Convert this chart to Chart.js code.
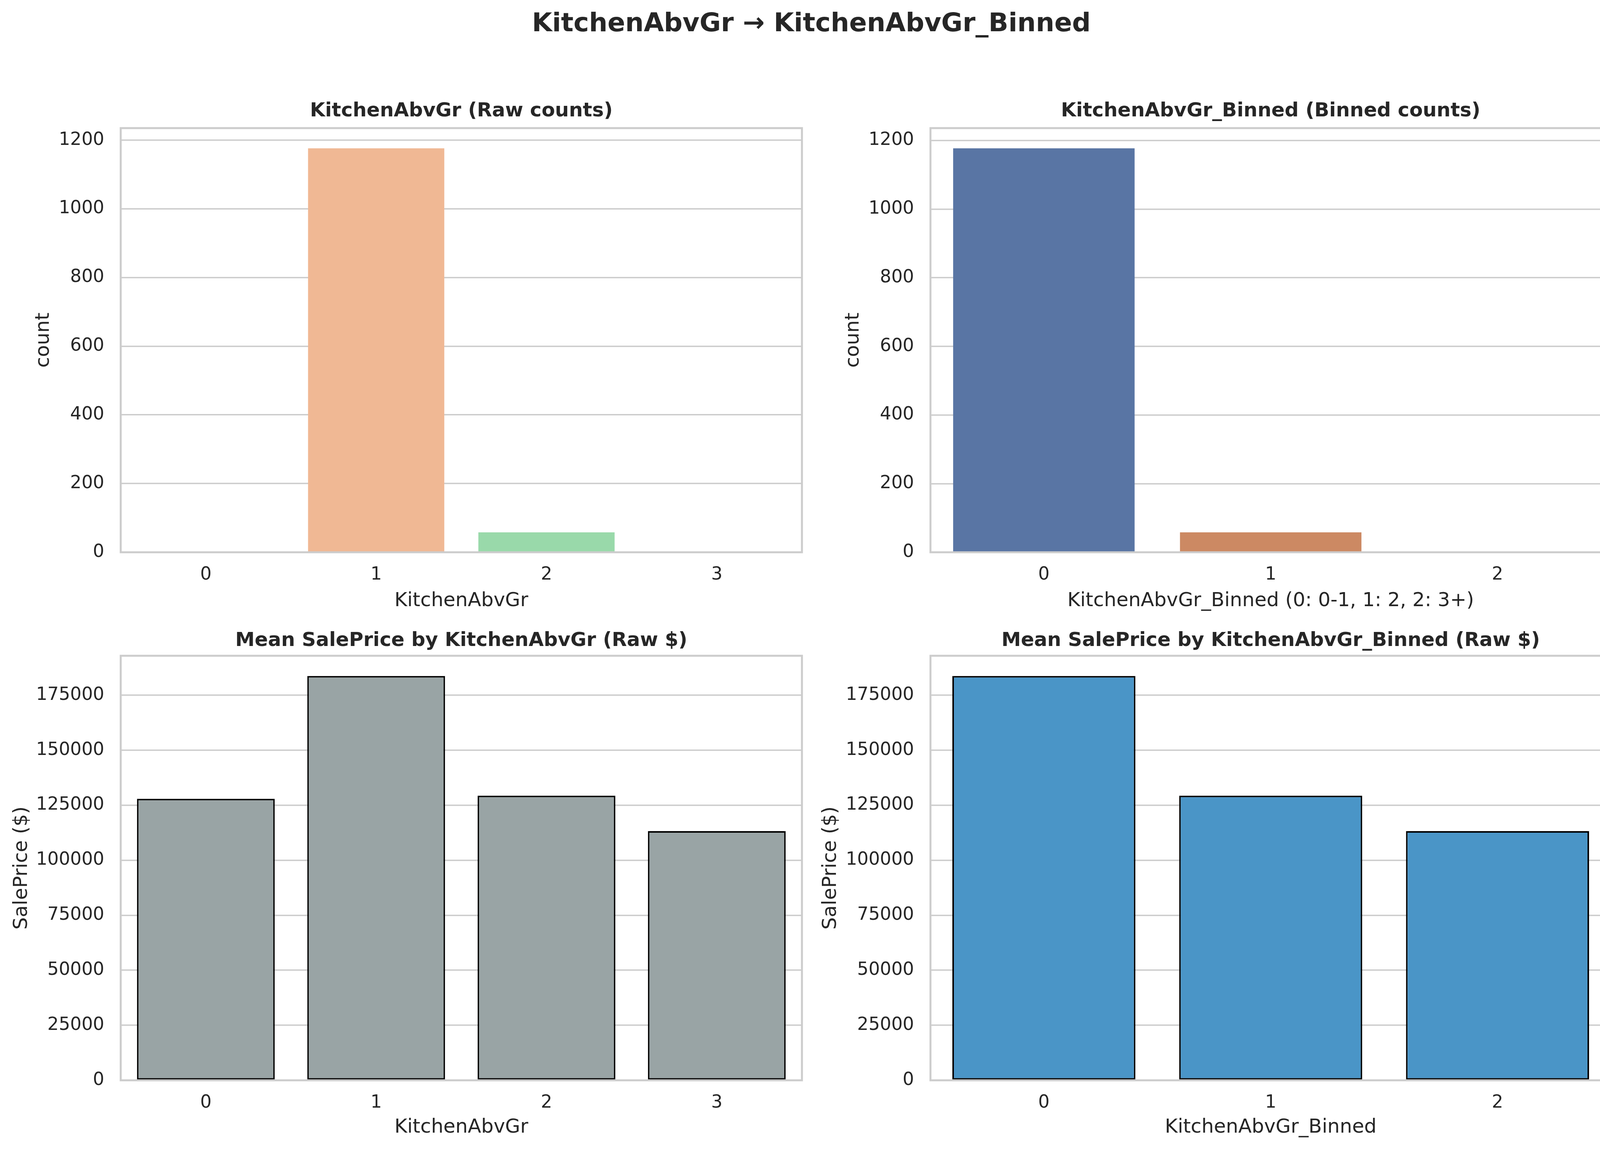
<!DOCTYPE html>
<html>
<head>
<meta charset="utf-8">
<script src="https://cdn.jsdelivr.net/npm/chart.js@4.4.1/dist/chart.umd.min.js"></script>
<style>
  html, body { margin: 0; padding: 0; background: #fff; }
  body { width: 4154px; height: 2947px; position: relative; overflow: hidden; }
  canvas { position: absolute; }
  .suptitle {
    position: absolute; left: 0; top: 17px; width: 4154px; text-align: center;
    font-family: 'DejaVu Sans'; font-weight: bold; font-size: 66.7px; line-height: 80px; color: #262626;
  }
</style>
</head>
<body>
<div class="suptitle">KitchenAbvGr → KitchenAbvGr_Binned</div>
<canvas id="c1" width="2077" height="1370" style="left:0px;top:230px"></canvas>
<canvas id="c2" width="2077" height="1370" style="left:2077px;top:230px"></canvas>
<canvas id="c3" width="2077" height="1367" style="left:0px;top:1580px"></canvas>
<canvas id="c4" width="2077" height="1367" style="left:2077px;top:1580px"></canvas>
<script>
const rawCats = ['0', '1', '2', '3'];
const rawCounts = [1, 1176, 58, 2];
const binCats = ['0', '1', '2'];
const binCounts = [1177, 58, 2];
const rawPrice = [127900, 183700, 129300, 113200];
const binPrice = [183700, 129300, 113200];
const countTicks = [0, 200, 400, 600, 800, 1000, 1200];
const priceTicks = [0, 25000, 50000, 75000, 100000, 125000, 150000, 175000];

const rawColors = ['#a3c4e6', '#f0b894', '#99d9aa', '#eda4a1'];
const binColors = ['#5975a4', '#cc8963', '#5f9e6e'];

Chart.defaults.font.family = 'DejaVu Sans';
Chart.defaults.color = '#262626';

// matplotlib style frame: all four spines, drawn over the bars
const frame = {
  id: 'frame',
  afterDatasetsDraw(chart) {
    const a = chart.chartArea;
    const ctx = chart.ctx;
    ctx.save();
    ctx.strokeStyle = '#cccccc';
    ctx.lineWidth = 5;
    ctx.strokeRect(a.left, a.top, a.right - a.left, a.bottom - a.top);
    ctx.restore();
  }
};

function makePanel(id, p) {
  const ctx = document.getElementById(id).getContext('2d');
  const yMax = Math.max(...p.values) * 1.05;
  const tickVals = p.ticks;
  return new Chart(ctx, {
    type: 'bar',
    data: {
      labels: p.labels,
      datasets: [{
        data: p.values,
        backgroundColor: p.colors,
        borderColor: '#000000',
        borderWidth: p.edge ? 4 : 0,
        borderSkipped: false,
        barPercentage: p.barPct,
        categoryPercentage: 1.0,
      }]
    },
    options: {
      responsive: false,
      devicePixelRatio: 1,
      animation: false,
      layout: { padding: { left: 0, right: p.padRight, top: 0, bottom: 0 } },
      scales: {
        x: {
          grid: { display: false, drawTicks: false },
          border: { display: false },
          ticks: { font: { size: 45.8 }, color: '#262626', padding: 31 },
          title: {
            display: true, text: p.xTitle, color: '#262626',
            font: { size: 50 }, padding: { top: 0, bottom: p.xTitlePad }
          },
          afterFit: (s) => { s.height = p.xHeight; }
        },
        y: {
          min: 0,
          max: yMax,
          grid: { color: '#cccccc', lineWidth: 3.5, drawTicks: false },
          border: { display: false },
          afterBuildTicks: (s) => { s.ticks = tickVals.map(v => ({ value: v })); },
          ticks: {
            font: { size: 45.8 }, color: '#262626', padding: 42,
            callback: (v) => String(v)
          },
          title: {
            display: true, text: p.yTitle, color: '#262626',
            font: { size: 50 }, padding: { top: p.yTitlePad, bottom: 0 }
          },
          afterFit: (s) => { s.width = p.yWidth; }
        }
      },
      plugins: {
        legend: { display: false },
        tooltip: { enabled: false },
        title: {
          display: true,
          text: p.title,
          fullSize: false,
          color: '#262626',
          font: { size: 50, weight: 'bold' },
          padding: { top: p.titleTop, bottom: p.titleBottom }
        }
      }
    },
    plugins: [frame]
  });
}

makePanel('c1', {
  labels: rawCats, values: rawCounts, colors: rawColors, ticks: countTicks, edge: false, barPct: 0.8,
  title: 'KitchenAbvGr (Raw counts)', xTitle: 'KitchenAbvGr', yTitle: 'count',
  yWidth: 309, padRight: 24, xHeight: 186, xTitlePad: 31, yTitlePad: 82, titleTop: 25, titleBottom: 13
});

makePanel('c2', {
  labels: binCats, values: binCounts, colors: binColors, ticks: countTicks, edge: false, barPct: 0.8,
  title: 'KitchenAbvGr_Binned (Binned counts)', xTitle: 'KitchenAbvGr_Binned (0: 0-1, 1: 2, 2: 3+)', yTitle: 'count',
  yWidth: 305, padRight: 30, xHeight: 186, xTitlePad: 31, yTitlePad: 78, titleTop: 25, titleBottom: 13
});

makePanel('c3', {
  labels: rawCats, values: rawPrice, colors: '#99a4a5', ticks: priceTicks, edge: true, barPct: 0.809,
  title: 'Mean SalePrice by KitchenAbvGr (Raw $)', xTitle: 'KitchenAbvGr', yTitle: 'SalePrice ($)',
  yWidth: 309, padRight: 24, xHeight: 181, xTitlePad: 30, yTitlePad: 26, titleTop: 31, titleBottom: 8
});

makePanel('c4', {
  labels: binCats, values: binPrice, colors: '#4a95c7', ticks: priceTicks, edge: true, barPct: 0.807,
  title: 'Mean SalePrice by KitchenAbvGr_Binned (Raw $)', xTitle: 'KitchenAbvGr_Binned', yTitle: 'SalePrice ($)',
  yWidth: 305, padRight: 30, xHeight: 181, xTitlePad: 30, yTitlePad: 20, titleTop: 31, titleBottom: 8
});
</script>
</body>
</html>
